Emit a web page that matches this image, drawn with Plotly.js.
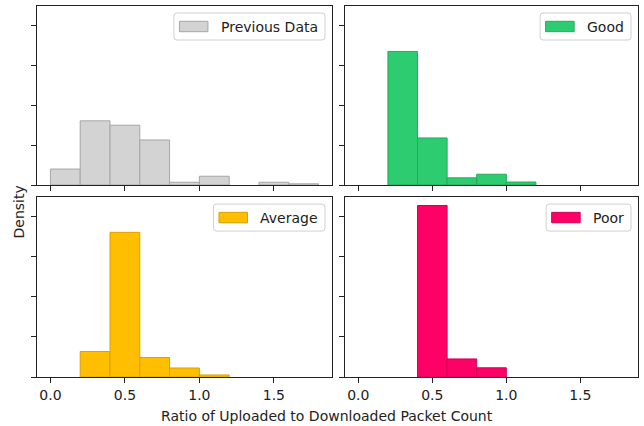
<!DOCTYPE html>
<html><head><meta charset="utf-8">
<script src="https://cdn.plot.ly/plotly-3.0.1.min.js"></script>
<style>body{margin:0;background:#fff;}</style>
</head><body><div id="chart" style="width:644px;height:426px;"></div>
<script>
// ---- data (density per bin, bin width 0.2; null = bin not in that histogram) ----
const binLeft = [0.0, 0.2, 0.4, 0.6, 0.8, 1.0, 1.2, 1.4, 1.6];
const binWidth = 0.2;
const previousData = [0.40, 1.61, 1.50, 1.13, 0.07, 0.22, null, 0.07, 0.03];
const good = [null, 3.35, 1.18, 0.18, 0.27, 0.075, null, null, null];
const average = [null, 0.635, 3.61, 0.485, 0.225, 0.05, null, null, null];
const poor = [null, null, 4.28, 0.45, 0.23, null, null, null, null];
const seriesNames = ['Previous Data', 'Good', 'Average', 'Poor'];
const xTickVals = [0, 0.5, 1.0, 1.5];
const xTickText = ['0.0', '0.5', '1.0', '1.5'];
const yTickVals = [0, 1, 2, 3, 4];
const xLabel = 'Ratio of Uploaded to Downloaded Packet Count';
const yLabel = 'Density';

// ---- styles ----
const fills = ['#d3d3d3', '#2ecc71', '#ffbf00', '#ff0066'];
const edges = ['#a6a6a6', '#25a85c', '#d9a000', '#d00055'];
const series = [previousData, good, average, poor];
const FONT = 'DejaVu Sans';

const W = 644, H = 426, ml = 37, mr = 6, mt = 6, mb = 49;
const pw = W - ml - mr, ph = H - mt - mb;
const xDom = [[0, 0.4908], [0.5125, 1]];
const yDom = [[0.5175, 1], [0, 0.485]];

const traces = [];
const panels = [];
for (let i = 0; i < 4; i++) {
  const col = i % 2, row = Math.floor(i / 2);
  const sfx = i === 0 ? '' : String(i + 1);
  traces.push({
    type: 'bar', x: binLeft, y: series[i], width: binWidth, offset: 0,
    xaxis: 'x' + sfx, yaxis: 'y' + sfx, name: seriesNames[i], showlegend: false,
    marker: {color: fills[i], line: {color: edges[i], width: 1}},
    hoverinfo: 'x+y'
  });
  panels.push({
    x0: ml + xDom[col][0] * pw, x1: ml + xDom[col][1] * pw,
    y0: mt + (1 - yDom[row][1]) * ph, y1: mt + (1 - yDom[row][0]) * ph
  });
}

const layout = {
  width: W, height: H,
  margin: {l: ml, r: mr, t: mt, b: mb},
  paper_bgcolor: '#fff', plot_bgcolor: '#fff',
  bargap: 0, showlegend: false,
  font: {family: FONT, size: 14, color: '#222'},
  shapes: [], annotations: []
};
for (let i = 0; i < 4; i++) {
  const col = i % 2, row = Math.floor(i / 2);
  const sfx = i === 0 ? '' : String(i + 1);
  layout['xaxis' + sfx] = {
    domain: xDom[col], anchor: 'y' + sfx, range: [-0.09, 1.89],
    tickvals: xTickVals, ticktext: xTickText, showticklabels: row === 1,
    ticks: 'outside', ticklen: 5, tickwidth: 1, tickcolor: '#222',
    showline: true, mirror: true, linecolor: '#222', linewidth: 1,
    showgrid: false, zeroline: false,
    tickfont: {family: FONT, size: 14, color: '#222'}
  };
  layout['yaxis' + sfx] = {
    domain: yDom[row], anchor: 'x' + sfx, range: [0, 4.49],
    tickvals: yTickVals, showticklabels: false,
    ticks: 'outside', ticklen: 5, tickwidth: 1, tickcolor: '#222',
    showline: true, mirror: true, linecolor: '#222', linewidth: 1,
    showgrid: false, zeroline: false
  };
}

const px2x = X => (X - ml) / pw;
const px2y = Y => (H - mb - Y) / ph;

// legends drawn per panel
const ctx = document.createElement('canvas').getContext('2d');
ctx.font = '14px "' + FONT + '"';
for (let i = 0; i < 4; i++) {
  const p = panels[i];
  const tw = ctx.measureText(seriesNames[i]).width;
  const bw = 5 + 29 + 12 + tw + 8, bh = 27;
  const bx1 = p.x1 - 7, bx0 = bx1 - bw, by0 = p.y0 + 7, by1 = by0 + bh;
  const r = 3;
  const P = (X, Y) => px2x(X) + ',' + px2y(Y);
  const path = 'M' + P(bx0 + r, by0) + ' L' + P(bx1 - r, by0) + ' Q' + P(bx1, by0) + ' ' + P(bx1, by0 + r) +
    ' L' + P(bx1, by1 - r) + ' Q' + P(bx1, by1) + ' ' + P(bx1 - r, by1) +
    ' L' + P(bx0 + r, by1) + ' Q' + P(bx0, by1) + ' ' + P(bx0, by1 - r) +
    ' L' + P(bx0, by0 + r) + ' Q' + P(bx0, by0) + ' ' + P(bx0 + r, by0) + ' Z';
  layout.shapes.push({type: 'path', xref: 'paper', yref: 'paper', path: path,
    fillcolor: 'rgba(255,255,255,0.85)', line: {color: '#d0d0d0', width: 1}, layer: 'above'});
  const cy = by0 + bh / 2;
  layout.shapes.push({type: 'rect', xref: 'paper', yref: 'paper',
    x0: px2x(bx0 + 5.5), x1: px2x(bx0 + 34), y0: px2y(cy - 5.2), y1: px2y(cy + 5.2),
    fillcolor: fills[i], line: {color: edges[i], width: 1}, layer: 'above'});
  layout.annotations.push({xref: 'paper', yref: 'paper', x: px2x(bx0 + 45), y: px2y(cy),
    xanchor: 'left', yanchor: 'middle', showarrow: false, text: seriesNames[i],
    font: {family: FONT, size: 14, color: '#222'}});
}

layout.annotations.push({xref: 'paper', yref: 'paper', x: px2x(327), y: px2y(416),
  xanchor: 'center', yanchor: 'middle', showarrow: false, text: xLabel,
  font: {family: FONT, size: 14, color: '#222'}});
layout.annotations.push({xref: 'paper', yref: 'paper', x: px2x(18), y: px2y(212.5),
  xanchor: 'center', yanchor: 'middle', showarrow: false, text: yLabel, textangle: -90,
  font: {family: FONT, size: 14, color: '#222'}});

Plotly.newPlot('chart', traces, layout, {staticPlot: true, displayModeBar: false});
</script>
</body></html>
